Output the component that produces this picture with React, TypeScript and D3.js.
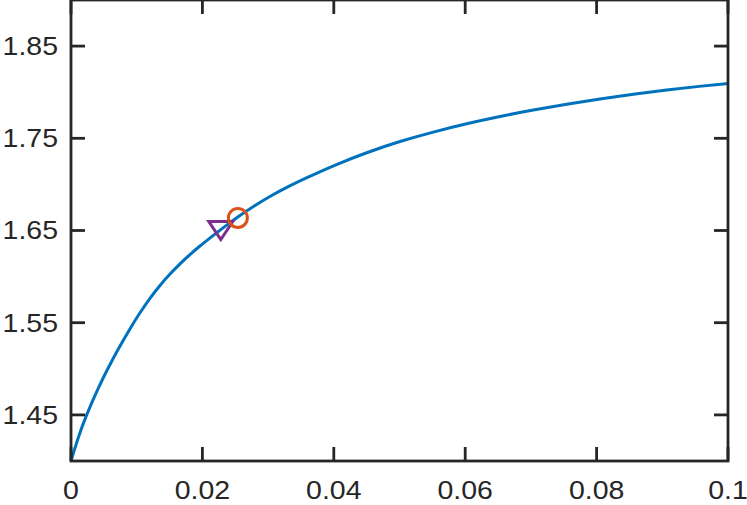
import React from "react";
import * as d3 from "d3";

const curveX = [0, 0.00111, 0.00224, 0.00416, 0.00568, 0.0072, 0.00913, 0.0105, 0.01202, 0.01355, 0.01507, 0.01659, 0.01811, 0.01963, 0.02116, 0.02344, 0.02546, 0.02801, 0.03055, 0.03307, 0.03562, 0.03992, 0.04501, 0.05008, 0.05514, 0.06023, 0.0653, 0.07037, 0.07545, 0.08052, 0.08559, 0.09067, 0.09574, 0.1];
const curveY = [1.4, 1.426, 1.4483, 1.4796, 1.5013, 1.5217, 1.5454, 1.5611, 1.5768, 1.5907, 1.6029, 1.614, 1.6241, 1.6333, 1.6419, 1.6546, 1.6651, 1.6773, 1.6882, 1.6977, 1.7064, 1.7204, 1.7347, 1.7468, 1.7569, 1.7659, 1.7738, 1.7807, 1.787, 1.7927, 1.7979, 1.8025, 1.8065, 1.8094];
const triangleMarker = { x: 0.0228, y: 1.6499 };
const circleMarker = { x: 0.0254, y: 1.6636 };
const xTicks = [0, 0.02, 0.04, 0.06, 0.08, 0.1];
const xTickLabels = ["0", "0.02", "0.04", "0.06", "0.08", "0.1"];
const yTicks = [1.45, 1.55, 1.65, 1.75, 1.85];
const yTickLabels = ["1.45", "1.55", "1.65", "1.75", "1.85"];

const W = 747, H = 505;
const L = 71, R = 728, T = 0, B = 461;
const AX = "#262626";
const TL = 14;

export default function App() {
  const x = d3.scaleLinear().domain([0, 0.1]).range([L, R]);
  const y = d3.scaleLinear().domain([1.4, 1.9]).range([B, T]);
  const pts: [number, number][] = curveX.map((v, i) => [v, curveY[i]]);
  const line = d3.line<[number, number]>().x(d => x(d[0])).y(d => y(d[1])).curve(d3.curveBasis);
  const tx = x(triangleMarker.x), ty = y(triangleMarker.y);
  const tw = 12, th = 9;
  const tri = `M${tx - tw},${ty - th} L${tx + tw},${ty - th} L${tx},${ty + th} Z`;
  const font = "'Liberation Sans', Arial, Helvetica, sans-serif";
  return (
    <svg width={W} height={H} style={{ position: "absolute", left: 0, top: 0, background: "#fff" }}>
      <rect x={0} y={0} width={W} height={H} fill="#fff" />
      <path d={line(pts) || ""} fill="none" stroke="#0072BD" strokeWidth={3} />
      <path d={tri} fill="none" stroke="#7E2F8E" strokeWidth={3} strokeLinejoin="miter" />
      <circle cx={x(circleMarker.x)} cy={y(circleMarker.y)} r={9.5} fill="none" stroke="#D95319" strokeWidth={3} />
      <g stroke={AX} strokeWidth={2.8}>
        {xTicks.map((t, i) => (
          <g key={"xt" + i}>
            <line x1={x(t)} x2={x(t)} y1={B} y2={B - TL} />
            <line x1={x(t)} x2={x(t)} y1={T} y2={T + TL} />
          </g>
        ))}
        {yTicks.map((t, i) => (
          <g key={"yt" + i}>
            <line x1={L} x2={L + TL} y1={y(t)} y2={y(t)} />
            <line x1={R} x2={R - TL} y1={y(t)} y2={y(t)} />
          </g>
        ))}
        <rect x={L} y={T} width={R - L} height={B - T} fill="none" strokeLinejoin="miter" />
      </g>
      <g fill={AX} fontFamily={font} fontSize={25}>
        {xTicks.map((t, i) => (
          <g key={"xl" + i} transform={`translate(${x(t)},${498.5}) scale(1.14,1)`}>
            <text textAnchor="middle">{xTickLabels[i]}</text>
          </g>
        ))}
        {yTicks.map((t, i) => (
          <g key={"yl" + i} transform={`translate(${58},${y(t) + 8.8}) scale(1.14,1)`}>
            <text textAnchor="end">{yTickLabels[i]}</text>
          </g>
        ))}
      </g>
    </svg>
  );
}
